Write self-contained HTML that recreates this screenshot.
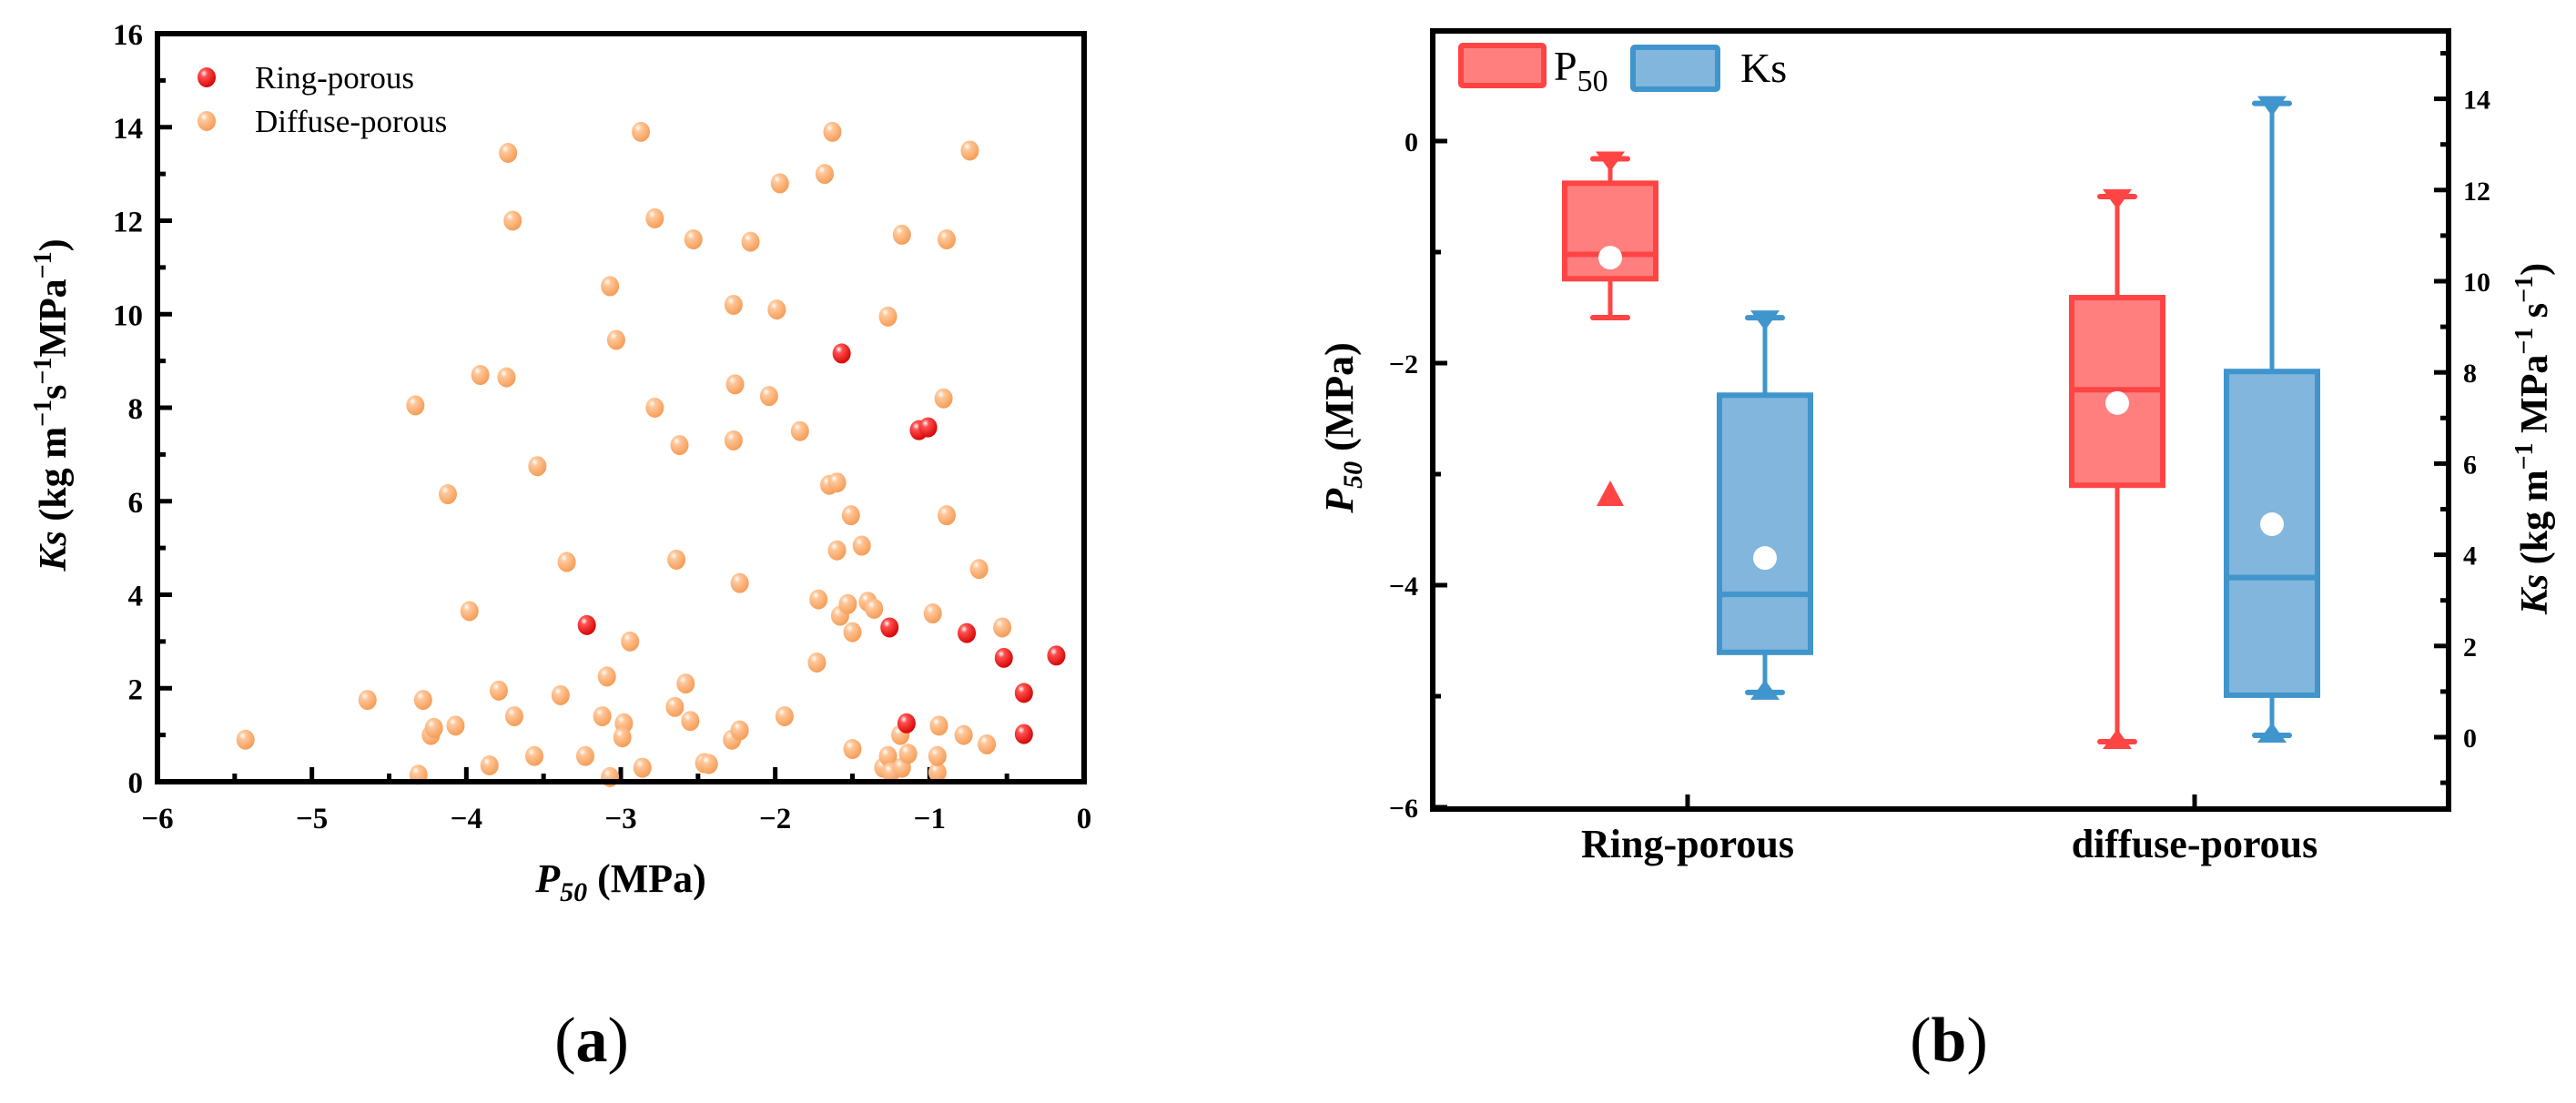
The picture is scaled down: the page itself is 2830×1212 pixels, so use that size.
<!DOCTYPE html>
<html><head><meta charset="utf-8"><style>
html,body{margin:0;padding:0;background:#fff;}
svg{display:block;font-family:"Liberation Serif",serif;}
</style></head><body>
<svg id="fig" width="2830" height="1212" viewBox="0 0 2830 1212" xmlns="http://www.w3.org/2000/svg">
<defs>
<radialGradient id="gO" cx="0.35" cy="0.3" r="0.75"><stop offset="0" stop-color="#fff"/><stop offset="0.25" stop-color="#ffc79a"/><stop offset="1" stop-color="#f59a52"/></radialGradient>
<radialGradient id="gR" cx="0.35" cy="0.3" r="0.75"><stop offset="0" stop-color="#fff"/><stop offset="0.25" stop-color="#ff5050"/><stop offset="1" stop-color="#d40000"/></radialGradient>
</defs>
<g id="plotA"></g>
<g id="plotB"></g>
<text x="650" y="1166" font-size="70" text-anchor="middle">(<tspan font-weight="bold">a</tspan>)</text>
<text x="2141" y="1166" font-size="70" text-anchor="middle">(<tspan font-weight="bold">b</tspan>)</text>
</svg>
<script>
// ---- Panel (a) data ----
const diffuseX = [-5.43,-4.64,-4.31,-4.33,-4.28,-4.23,-4.21,-4.07,-4.12,-3.98,-3.91,-3.85,-3.79,-3.74,-3.73,-3.69,-3.7,-3.56,-3.54,-3.39,-3.35,-3.23,-3.12,-3.09,-3.07,-3.07,-3.03,-2.98,-2.99,-2.94,-2.87,-2.86,-2.78,-2.78,-2.65,-2.64,-2.62,-2.58,-2.55,-2.53,-2.46,-2.43,-2.28,-2.23,-2.27,-2.26,-2.27,-2.23,-2.16,-2.04,-1.99,-1.97,-1.94,-1.84,-1.73,-1.72,-1.68,-1.65,-1.6,-1.63,-1.6,-1.58,-1.53,-1.51,-1.5,-1.5,-1.44,-1.4,-1.36,-1.3,-1.27,-1.25,-1.27,-1.18,-1.19,-1.18,-1.14,-0.98,-0.95,-0.95,-0.94,-0.91,-0.89,-0.89,-0.78,-0.74,-0.68,-0.63,-0.53];
const diffuseY = [0.9,1.75,0.15,8.05,1.75,1.0,1.15,1.2,6.15,3.65,8.7,0.35,1.95,8.65,13.45,1.4,12.0,0.55,6.75,1.85,4.7,0.55,1.4,2.25,0.1,10.6,9.45,1.25,0.95,3.0,13.9,0.3,12.05,8.0,1.6,4.75,7.2,2.1,1.3,11.6,0.4,0.38,0.9,1.1,10.2,8.5,7.3,4.25,11.55,8.25,10.1,12.8,1.4,7.5,2.55,3.9,13.0,6.35,6.4,13.9,4.95,3.55,3.8,5.7,3.2,0.7,5.05,3.85,3.7,0.3,0.55,0.2,9.95,11.7,1.0,0.3,0.6,3.6,0.2,0.55,1.2,8.2,11.6,5.7,1.0,13.5,4.55,0.8,3.3];
const ringX = [-3.22,-1.57,-1.26,-1.15,-1.07,-1.01,-0.76,-0.52,-0.39,-0.39,-0.18];
const ringY = [3.35,9.16,3.3,1.25,7.52,7.58,3.18,2.65,1.9,1.02,2.7];
const xTicksA = [-6,-5,-4,-3,-2,-1,0];
const yTicksA = [0,2,4,6,8,10,12,14,16];

// ---- Panel (b) data ----
const categories = ["Ring-porous","diffuse-porous"];
const p50Max = [-0.16,-0.5];
const p50Q3 = [-0.38,-1.41];
const p50Median = [-1.02,-2.24];
const p50Mean = [-1.05,-2.36];
const p50Q1 = [-1.24,-3.1];
const p50Min = [-1.59,-5.41];
const p50Outlier = [-3.18,null];
const p50MinTriangle = [false,true];
const ksMax = [9.2,13.9];
const ksQ3 = [7.5,8.02];
const ksMedian = [3.13,3.5];
const ksMean = [3.93,4.67];
const ksQ1 = [1.86,0.92];
const ksMin = [0.98,0.04];
const yTicksBL = [-6,-4,-2,0];
const yTicksBR = [0,2,4,6,8,10,12,14];

const NS="http://www.w3.org/2000/svg";
function mk(parent,tag,attrs,text){const e=document.createElementNS(NS,tag);for(const k in attrs)e.setAttribute(k,attrs[k]);if(text!==undefined)e.textContent=text;parent.appendChild(e);return e;}

// ===== Panel A =====
const A=document.getElementById('plotA');
const ax0=173, ax1=1191, ay0=859, ay1=37;
const XA=v=>ax0+(v+6)*(ax1-ax0)/6;
const YA=v=>ay0-v*(ay0-ay1)/16;
for(let v=-6;v<=0;v+=0.5){
  const major=Number.isInteger(v);
  const t=mk(A,'line',{x1:XA(v),x2:XA(v),y1:ay0,y2:ay0-(major?16:9),stroke:'#000','stroke-width':5});
  
  
}
for(let v=0;v<=16;v+=1){
  const major=v%2===0;
  const t=mk(A,'line',{x1:ax0,x2:ax0+(major?16:9),y1:YA(v),y2:YA(v),stroke:'#000','stroke-width':5});
  
  
}
xTicksA.forEach(v=>{
  const t=mk(A,'text',{x:XA(v),y:910,'font-size':33,'font-weight':'bold','text-anchor':'middle'},v<0?'\u2212'+Math.abs(v):String(v));
  
  
});
yTicksA.forEach(v=>{
  const t=mk(A,'text',{x:157,y:YA(v)+12,'font-size':33,'font-weight':'bold','text-anchor':'end'},String(v));
  
  
});
diffuseX.forEach((x,i)=>{
  const c=mk(A,'ellipse',{cx:XA(x),cy:YA(diffuseY[i]),rx:10,ry:11,fill:'url(#gO)'});
  
  
});
ringX.forEach((x,i)=>{
  const c=mk(A,'ellipse',{cx:XA(x),cy:YA(ringY[i]),rx:10,ry:11,fill:'url(#gR)'});
  
  
});
const fa=mk(A,'rect',{x:ax0,y:ay1,width:ax1-ax0,height:ay0-ay1,fill:'none',stroke:'#000','stroke-width':6});


const lg=mk(A,'g',{});


const l1=mk(lg,'ellipse',{cx:227,cy:85,rx:10,ry:11,fill:'url(#gR)'});


const l2=mk(lg,'ellipse',{cx:227,cy:133,rx:10,ry:11,fill:'url(#gO)'});


const lt1=mk(lg,'text',{x:280,y:97,'font-size':35},'Ring-porous');


const lt2=mk(lg,'text',{x:280,y:145,'font-size':35},'Diffuse-porous');


const xt=mk(A,'text',{x:682,y:980,'font-size':44,'font-weight':'bold','text-anchor':'middle'});
xt.innerHTML='<tspan font-style="italic">P</tspan><tspan font-style="italic" font-size="30" dy="10">50</tspan><tspan dy="-10"> (MPa)</tspan>';


const yt=mk(A,'text',{x:0,y:0,'font-size':42,'font-weight':'bold','text-anchor':'middle',transform:'translate(72,445) rotate(-90)'});
yt.innerHTML='<tspan font-style="italic">Ks</tspan> (kg m<tspan font-size="28" dy="-16">\u22121</tspan><tspan dy="16">s</tspan><tspan font-size="28" dy="-16">\u22121</tspan><tspan dy="16">MPa</tspan><tspan font-size="28" dy="-16">\u22121</tspan><tspan dy="16">)</tspan>';



// ===== Panel B =====
const B=document.getElementById('plotB');
const bx0=1574, bx1=2690, by0=889, by1=34;
const YL=v=>155-v*122;
const YR=v=>810-v*50.1;
const catX=[1854,2411];
const off=85, bw=100;
const redS='#ff4444', redF='#ff7f7f', bluS='#3f95cc', bluF='#82b6dc';
for(let v=-6;v<=0.5;v+=1){
  const major=v%2===0;
  const t=mk(B,'line',{x1:bx0,x2:bx0+(major?16:9),y1:YL(v),y2:YL(v),stroke:'#000','stroke-width':5});
  
  
}
for(let v=-1;v<=15;v+=1){
  const major=v%2===0;
  const t=mk(B,'line',{x1:bx1,x2:bx1-(major?16:9),y1:YR(v),y2:YR(v),stroke:'#000','stroke-width':5});
  
  
}
catX.forEach(x=>{
  const t=mk(B,'line',{x1:x,x2:x,y1:by0,y2:by0-16,stroke:'#000','stroke-width':5});
  
  
});
yTicksBL.forEach(v=>{
  const t=mk(B,'text',{x:1558,y:YL(v)+11,'font-size':30,'font-weight':'bold','text-anchor':'end'},v<0?'\u2212'+Math.abs(v):String(v));
  
  
});
yTicksBR.forEach(v=>{
  const t=mk(B,'text',{x:2706,y:YR(v)+11,'font-size':30,'font-weight':'bold','text-anchor':'start'},String(v));
  
  
});
categories.forEach((c,i)=>{
  const t=mk(B,'text',{x:catX[i],y:942,'font-size':44,'font-weight':'bold','text-anchor':'middle'},c);
  
  
});
function capTri(g,x,y,dir,col,tri){
  mk(g,'line',{x1:x-19,x2:x+19,y1:y,y2:y,stroke:col,'stroke-width':6,'stroke-linecap':'round'});
  if(tri) mk(g,'polygon',{points:`${x-16},${y-dir*8} ${x+16},${y-dir*8} ${x},${y+dir*14}`,fill:col});
}
function box(cx,Y,mx,q3,md,mn,q1,mi,S,F,name,minTri){
  const g=mk(B,'g',{});
  
  
  mk(g,'line',{x1:cx,x2:cx,y1:Y(mx),y2:Y(mi),stroke:S,'stroke-width':5});
  mk(g,'rect',{x:cx-bw/2,y:Y(q3),width:bw,height:Y(q1)-Y(q3),fill:F,stroke:S,'stroke-width':6});
  mk(g,'line',{x1:cx-bw/2,x2:cx+bw/2,y1:Y(md),y2:Y(md),stroke:S,'stroke-width':6});
  mk(g,'ellipse',{cx:cx,cy:Y(mn),rx:13,ry:13,fill:'#fff'});
  capTri(g,cx,Y(mx),1,S,true);
  capTri(g,cx,Y(mi),-1,S,minTri);
}
categories.forEach((c,i)=>{
  box(catX[i]-off,YL,p50Max[i],p50Q3[i],p50Median[i],p50Mean[i],p50Q1[i],p50Min[i],redS,redF,'p50-box',p50MinTriangle[i]);
  box(catX[i]+off,YR,ksMax[i],ksQ3[i],ksMedian[i],ksMean[i],ksQ1[i],ksMin[i],bluS,bluF,'ks-box',true);
  if(p50Outlier[i]!==null){
    const y=YL(p50Outlier[i]), x=catX[i]-off;
    const o=mk(B,'polygon',{points:`${x-15},${y+13} ${x+15},${y+13} ${x},${y-15}`,fill:redS});
    
    
  }
});
const fb=mk(B,'rect',{x:bx0,y:by1,width:bx1-bx0,height:by0-by1,fill:'none',stroke:'#000','stroke-width':6});


const lgb=mk(B,'g',{});


const s1=mk(lgb,'rect',{x:1605,y:50,width:91,height:44,fill:redF,stroke:redS,'stroke-width':6,rx:2});


const s2=mk(lgb,'rect',{x:1794,y:52,width:93,height:46,fill:bluF,stroke:bluS,'stroke-width':6,rx:2});


const t1=mk(lgb,'text',{x:1707,y:88,'font-size':46});
t1.innerHTML='P<tspan font-size="34" dy="12">50</tspan>';


const t2=mk(lgb,'text',{x:1912,y:90,'font-size':46},'Ks');


const ylb=mk(B,'text',{x:0,y:0,'font-size':44,'font-weight':'bold','text-anchor':'middle',transform:'translate(1486,470) rotate(-90)'});
ylb.innerHTML='<tspan font-style="italic">P</tspan><tspan font-style="italic" font-size="30" dy="10">50</tspan><tspan dy="-10"> (MPa)</tspan>';


const yrb=mk(B,'text',{x:0,y:0,'font-size':42,'font-weight':'bold','text-anchor':'middle',transform:'translate(2798,482) rotate(-90)'});
yrb.innerHTML='<tspan font-style="italic">Ks</tspan> (kg m<tspan font-size="28" dy="-16">\u22121</tspan><tspan dy="16"> MPa</tspan><tspan font-size="28" dy="-16">\u22121</tspan><tspan dy="16"> s</tspan><tspan font-size="28" dy="-16">\u22121</tspan><tspan dy="16">)</tspan>';


</script>
</body></html>
